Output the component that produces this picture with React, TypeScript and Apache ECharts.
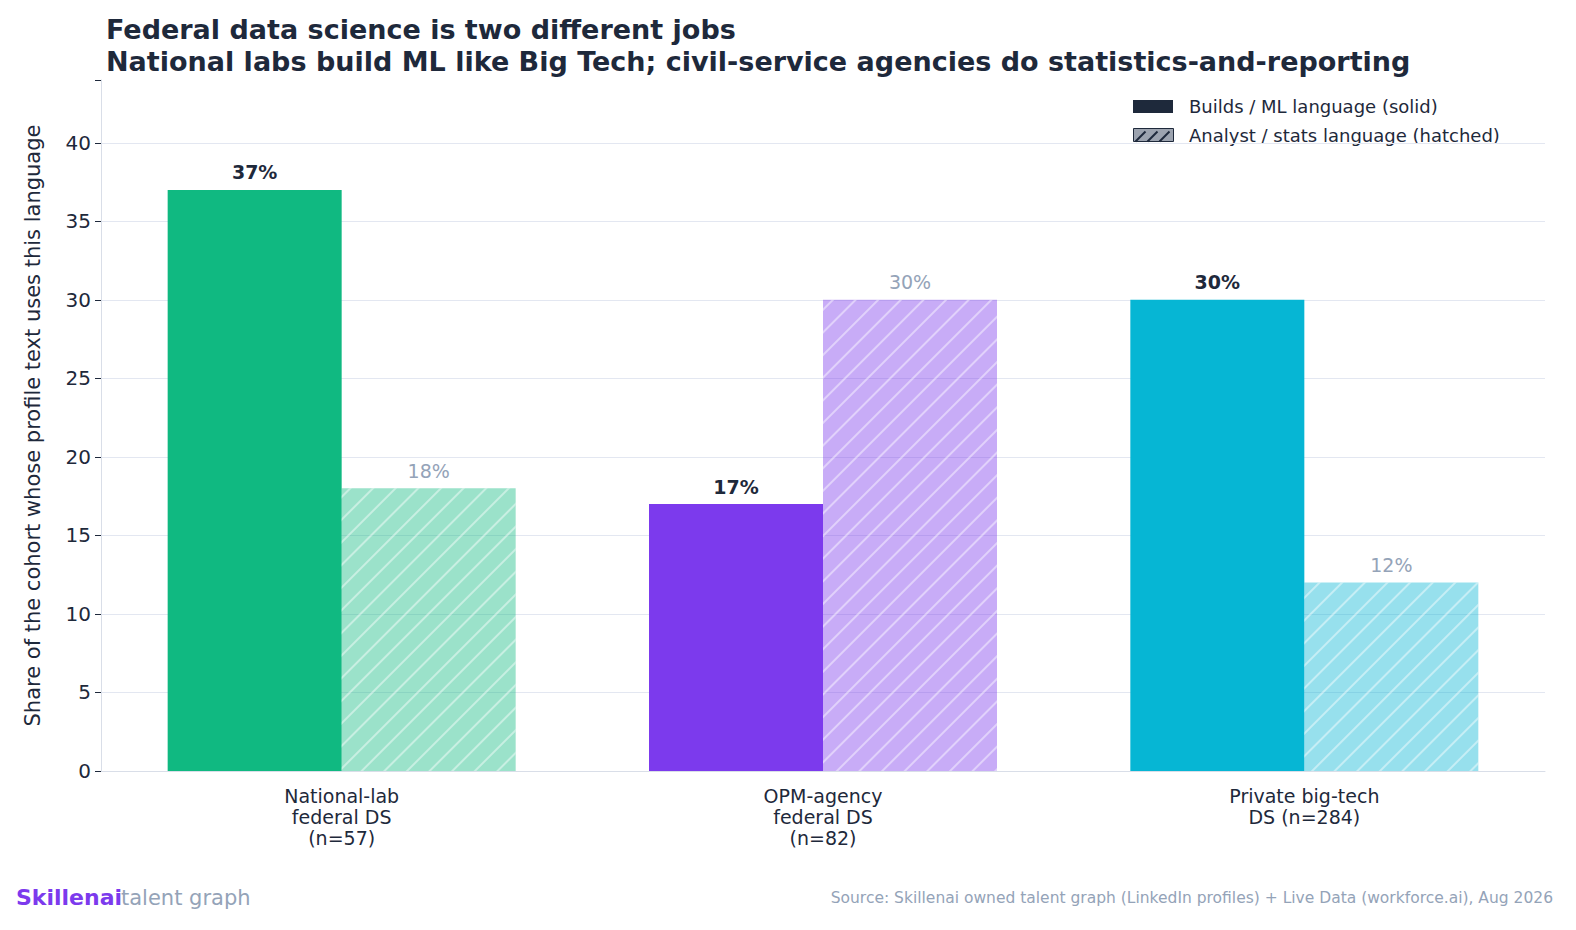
import { useEffect, useRef } from 'react';
import * as echarts from 'echarts';

const categories = ['National-lab\nfederal DS\n(n=57)', 'OPM-agency\nfederal DS\n(n=82)', 'Private big-tech\nDS (n=284)'];
const buildsValues = [37, 17, 30];
const analystValues = [18, 30, 12];
const cohortColors = ['#10b981', '#7c3aed', '#06b6d4'];
const fadedColors = ['rgba(16,185,129,0.42)', 'rgba(124,58,237,0.42)', 'rgba(6,182,212,0.42)'];

const FONT = '"DejaVu Sans", sans-serif';
const DARK = '#1e293b';
const GRAY = '#94a3b8';

export default function App() {
  const chartRef = useRef<HTMLDivElement>(null);

  useEffect(() => {
    if (!chartRef.current) return;
    const chart = echarts.init(chartRef.current, null, { renderer: 'svg' });

    const hatch = {
      symbol: 'rect',
      color: 'rgba(255,255,255,0.45)',
      dashArrayX: [1, 0],
      dashArrayY: [2, 14],
      rotation: -Math.PI / 4,
    };

    const option = {
      animation: false,
      backgroundColor: '#ffffff',
      textStyle: { fontFamily: FONT },
      title: {
        text: 'Federal data science is two different jobs\nNational labs build ML like Big Tech; civil-service agencies do statistics-and-reporting',
        left: 101,
        top: 8,
        textStyle: { fontFamily: FONT, fontSize: 27, fontWeight: 'bold', color: DARK, lineHeight: 32 },
      },
      grid: { left: 101, right: 31, top: 80, bottom: 159 },
      xAxis: {
        type: 'category',
        data: categories,
        axisLine: { lineStyle: { color: '#d9dee8' } },
        axisTick: { alignWithLabel: true, length: 6, lineStyle: { color: DARK } },
        axisLabel: { color: DARK, fontSize: 19, lineHeight: 21, margin: 14, fontFamily: FONT },
      },
      yAxis: {
        type: 'value',
        min: 0,
        max: 44,
        interval: 5,
        name: 'Share of the cohort whose profile text uses this language',
        nameLocation: 'middle',
        nameGap: 58,
        nameTextStyle: { color: DARK, fontSize: 21, fontFamily: FONT },
        axisLine: { show: true, lineStyle: { color: '#d9dee8' } },
        axisTick: { show: true, length: 6, lineStyle: { color: DARK } },
        axisLabel: {
          color: DARK,
          fontSize: 20,
          margin: 10,
          fontFamily: FONT,
          formatter: (v: number) => (v % 5 === 0 ? String(v) : ''),
        },
        splitLine: { show: true, showMaxLine: false, lineStyle: { color: '#e3e7f1' } },
      },
      series: [
        {
          name: 'Builds / ML language (solid)',
          type: 'bar',
          barWidth: 174,
          barGap: '0%',
          data: buildsValues.map((v, i) => ({ value: v, itemStyle: { color: cohortColors[i] } })),
          label: {
            show: true,
            position: 'top',
            distance: 8,
            formatter: '{c}%',
            color: DARK,
            fontWeight: 'bold',
            fontSize: 19,
            fontFamily: FONT,
          },
        },
        {
          name: 'Analyst / stats language (hatched)',
          type: 'bar',
          barWidth: 174,
          data: analystValues.map((v, i) => ({
            value: v,
            itemStyle: { color: fadedColors[i], decal: hatch },
          })),
          label: {
            show: true,
            position: 'top',
            distance: 8,
            formatter: '{c}%',
            color: GRAY,
            fontSize: 19,
            fontFamily: FONT,
          },
        },
      ],
      graphic: [
        { type: 'rect', left: 1133, top: 100, shape: { width: 40, height: 13 }, style: { fill: DARK } },
        { type: 'text', left: 1189, top: 97, style: { text: 'Builds / ML language (solid)', fill: DARK, font: `18px ${FONT}` } },
        {
          type: 'group',
          left: 1133,
          top: 128,
          children: [
            { type: 'rect', shape: { x: 0, y: 0, width: 40, height: 13 }, style: { fill: '#9ca3af', stroke: DARK, lineWidth: 1 } },
            { type: 'line', shape: { x1: 2, y1: 13, x2: 12, y2: 3 }, style: { stroke: DARK, lineWidth: 2 } },
            { type: 'line', shape: { x1: 14, y1: 13, x2: 24, y2: 3 }, style: { stroke: DARK, lineWidth: 2 } },
            { type: 'line', shape: { x1: 26, y1: 13, x2: 36, y2: 3 }, style: { stroke: DARK, lineWidth: 2 } },
          ],
        },
        { type: 'text', left: 1189, top: 126, style: { text: 'Analyst / stats language (hatched)', fill: DARK, font: `18px ${FONT}` } },
        { type: 'text', left: 16, top: 886, style: { text: 'Skillenai', fill: '#7c3aed', font: `bold 22px ${FONT}` } },
        { type: 'text', left: 121, top: 887, style: { text: 'talent graph', fill: GRAY, font: `21px ${FONT}` } },
        {
          type: 'text',
          right: 23,
          top: 890,
          style: {
            text: 'Source: Skillenai owned talent graph (LinkedIn profiles) + Live Data (workforce.ai), Aug 2026',
            fill: GRAY,
            font: `15.5px ${FONT}`,
          },
        },
      ],
    };

    chart.setOption(option);
    return () => chart.dispose();
  }, []);

  return (
    <div
      ref={chartRef}
      style={{ position: 'fixed', left: 0, top: 0, width: '1576px', height: '930px' }}
    ></div>
  );
}
